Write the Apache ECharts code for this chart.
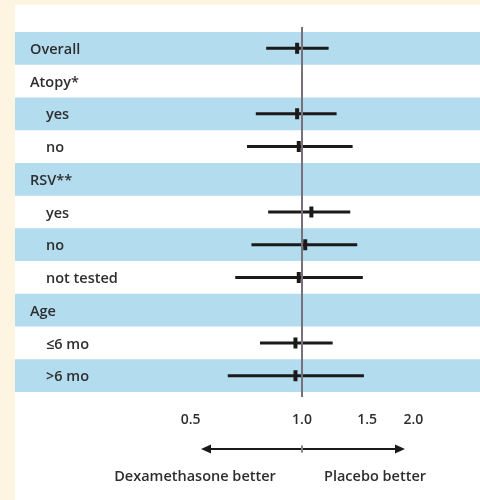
<!DOCTYPE html>
<html><head><meta charset="utf-8">
<script src="https://cdn.jsdelivr.net/npm/echarts@6/dist/echarts.min.js"></script>
<style>html,body{margin:0;padding:0;background:#fdf5e1;} #c{width:480px;height:500px;}</style>
</head><body><div id="c"></div>
<script>
const rowLabels = ['Overall','Atopy*','yes','no','RSV**','yes','no','not tested','Age','\u22646 mo','>6 mo'];
const rowIsHeader = [true,true,false,false,true,false,false,false,true,false,false];
const ciLow =    [0.80,null,0.75,0.71,null,0.81,0.73,0.66,null,0.77,0.63];
const estimate = [0.97,null,0.97,0.98,null,1.06,1.02,0.98,null,0.96,0.96];
const ciHigh =   [1.18,null,1.24,1.37,null,1.35,1.41,1.46,null,1.21,1.47];
const xTicks = [0.5, 1.0, 1.5, 2.0];
const leftNote = 'Dexamethasone better';
const rightNote = 'Placebo better';

const FONT = 'Open Sans';
const TXT = '#2e2e2e';
const BLUE = '#b3dcef';

const rows = rowLabels.map((_, i) => i);
const ciData = [];
rows.forEach(i => { if (estimate[i] != null) ciData.push([i, ciLow[i], estimate[i], ciHigh[i]]); });
const bandData = rows.filter(i => i % 2 === 0).map(i => [{yAxis: i - 0.5}, {yAxis: i + 0.5}]);

const chart = echarts.init(document.getElementById('c'), null, {renderer: 'canvas'});
chart.setOption({
  backgroundColor: '#fdf5e1',
  animation: false,
  grid: {left: 15, right: 0, top: 27, bottom: 103, containLabel: false},
  xAxis: {
    type: 'log', logBase: 10, min: 0.1676, max: 3.027, z: 20,
    axisLine: {show: false}, axisTick: {show: false}, splitLine: {show: false},
    minorTick: {show: false}, minorSplitLine: {show: false},
    axisLabel: {customValues: xTicks, formatter: v => Number(v).toFixed(1), margin: 16,
      fontFamily: FONT, fontSize: 14, fontWeight: 600, color: TXT}
  },
  yAxis: {
    type: 'value', inverse: true, min: -0.65, max: 10.65, z: 20,
    axisLine: {show: false}, axisTick: {show: false}, splitLine: {show: false},
    axisLabel: {
      customValues: rows, inside: true, margin: 15,
      formatter: v => (rowIsHeader[v] ? '{h|' : '{s|') + rowLabels[v] + '}',
      rich: {
        h: {fontFamily: FONT, fontSize: 14.5, fontWeight: 600, color: TXT, padding: [3, 0, 0, 0]},
        s: {fontFamily: FONT, fontSize: 14.5, fontWeight: 600, color: TXT, padding: [3, 0, 0, 16]}
      }
    }
  },
  graphic: [
    {type: 'rect', z: -10, shape: {x: 15, y: 5, width: 465, height: 495}, style: {fill: '#ffffff'}},
    {type: 'line', z: 10, shape: {x1: 207, y1: 449, x2: 399, y2: 449}, style: {stroke: '#1a1a1a', lineWidth: 2}},
    {type: 'polygon', z: 10, shape: {points: [[201, 449], [211, 444.5], [211, 453.5]]}, style: {fill: '#1a1a1a'}},
    {type: 'polygon', z: 10, shape: {points: [[405, 449], [395, 444.5], [395, 453.5]]}, style: {fill: '#1a1a1a'}},
    {type: 'line', z: 11, shape: {x1: 302, y1: 445.5, x2: 302, y2: 452.5}, style: {stroke: '#8a7f86', lineWidth: 2}},
    {type: 'text', z: 10, x: 195, y: 477, style: {text: leftNote, textAlign: 'center', textVerticalAlign: 'middle',
      fontFamily: FONT, fontSize: 14.5, fontWeight: 600, fill: TXT}},
    {type: 'text', z: 10, x: 375, y: 477, style: {text: rightNote, textAlign: 'center', textVerticalAlign: 'middle',
      fontFamily: FONT, fontSize: 14.5, fontWeight: 600, fill: TXT}}
  ],
  series: [
    {
      type: 'line', data: [], z: 1, silent: true,
      markArea: {silent: true, itemStyle: {color: BLUE}, data: bandData}
    },
    {
      type: 'custom', z: 3, silent: true,
      encode: {x: [1, 2, 3], y: 0},
      data: ciData,
      renderItem: function (params, api) {
        const y = api.value(0);
        const pL = api.coord([api.value(1), y]);
        const pE = api.coord([api.value(2), y]);
        const pH = api.coord([api.value(3), y]);
        return {type: 'group', children: [
          {type: 'line', shape: {x1: pL[0], y1: pL[1], x2: pH[0], y2: pH[1]}, style: {stroke: '#1a1a1a', lineWidth: 3}},
          {type: 'rect', shape: {x: pE[0] - 2, y: pE[1] - 5.5, width: 4, height: 11}, style: {fill: '#1a1a1a'}}
        ]};
      },
      markLine: {
        silent: true, symbol: ['none', 'none'], label: {show: false},
        lineStyle: {color: '#777279', width: 2, type: 'solid'},
        data: [{xAxis: 1}]
      }
    }
  ]
});
</script></body></html>
